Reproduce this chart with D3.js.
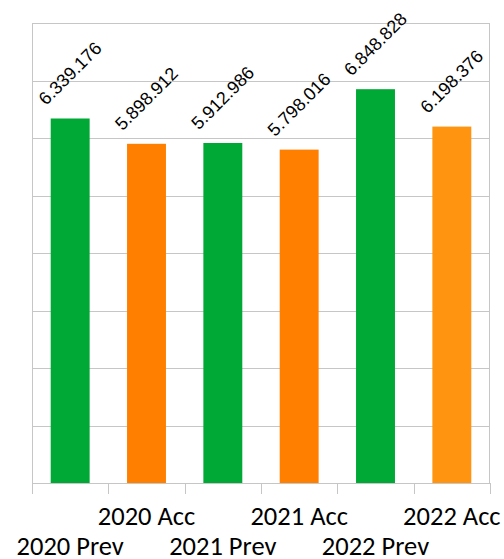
<!DOCTYPE html>
<html>
<head>
<meta charset="utf-8">
<script src="https://cdn.jsdelivr.net/npm/d3@7"></script>
<style>
  html, body { margin: 0; padding: 0; background: #ffffff; }
  svg { display: block; }
</style>
</head>
<body>
<svg id="chart" width="504" height="559"></svg>
<script>
// Yearly totals, previsione vs accertato
const categories = ["2020 Prev", "2020 Acc", "2021 Prev", "2021 Acc", "2022 Prev", "2022 Acc"];
const values = [6339176, 5898912, 5912986, 5798016, 6848828, 6198376];
const valueLabels = ["6.339.176", "5.898.912", "5.912.986", "5.798.016", "6.848.828", "6.198.376"];
const barColors = ["#00a835", "#ff8000", "#00a835", "#ff8000", "#00a835", "#ff9410"];
const yTicks = [0, 1000000, 2000000, 3000000, 4000000, 5000000, 6000000, 7000000, 8000000];

const svg = d3.select("#chart");
const margin = { top: 23, right: 14, bottom: 76, left: 32 };
const width = 504 - margin.left - margin.right;
const height = 559 - margin.top - margin.bottom;

const g = svg.append("g").attr("transform", `translate(${margin.left},${margin.top})`);

const x = d3.scaleBand().domain(categories).range([0, width]).paddingInner(0).paddingOuter(0);
const y = d3.scaleLinear().domain([0, 8000000]).range([height, 0]);

const gridColor = "#c6c6c6";

// horizontal gridlines
g.append("g")
  .selectAll("line")
  .data(yTicks)
  .join("line")
  .attr("x1", 0).attr("x2", width)
  .attr("y1", d => Math.round(y(d)) + 0.5).attr("y2", d => Math.round(y(d)) + 0.5)
  .attr("stroke", gridColor).attr("stroke-width", 1);

// frame sides
g.append("line").attr("x1", 0.5).attr("x2", 0.5).attr("y1", 0).attr("y2", height)
  .attr("stroke", gridColor);
g.append("line").attr("x1", width - 0.5).attr("x2", width - 0.5).attr("y1", 0).attr("y2", height)
  .attr("stroke", gridColor);

// bars
const barW = x.bandwidth() * 0.51;
g.append("g")
  .selectAll("rect")
  .data(values)
  .join("rect")
  .attr("x", (d, i) => x(categories[i]) + (x.bandwidth() - barW) / 2)
  .attr("y", d => y(d))
  .attr("width", barW)
  .attr("height", d => height - y(d))
  .attr("fill", (d, i) => barColors[i]);

// value labels, rotated 45 degrees above each bar
g.append("g")
  .selectAll("text")
  .data(values)
  .join("text")
  .attr("transform", (d, i) => `translate(${x(categories[i]) + x.bandwidth() / 2},${y(d) - 45}) rotate(-45)`)
  .attr("text-anchor", "middle")
  .attr("dominant-baseline", "central")
  .attr("font-family", "'Liberation Sans', Arial, sans-serif")
  .attr("font-size", 18)
  .attr("fill", "#000")
  .text((d, i) => valueLabels[i]);

// x axis with staggered category labels
const xAxis = g.append("g").attr("transform", `translate(0,${height})`);
const bounds = categories.map(c => x(c)).concat([width]);
xAxis.selectAll("line.tick")
  .data(bounds)
  .join("line")
  .attr("class", "tick")
  .attr("x1", d => Math.round(d) + 0.5).attr("x2", d => Math.round(d) + 0.5)
  .attr("y1", 0).attr("y2", 11)
  .attr("stroke", gridColor);

xAxis.selectAll("text")
  .data(categories)
  .join("text")
  .attr("x", d => x(d) + x.bandwidth() / 2)
  .attr("y", (d, i) => i % 2 === 0 ? 72 : 42)
  .attr("text-anchor", "middle")
  .attr("font-family", "Carlito, Calibri, 'Liberation Sans', Arial, sans-serif")
  .attr("font-size", 26.5)
  .attr("fill", "#000")
  .text(d => d);
</script>
</body>
</html>
